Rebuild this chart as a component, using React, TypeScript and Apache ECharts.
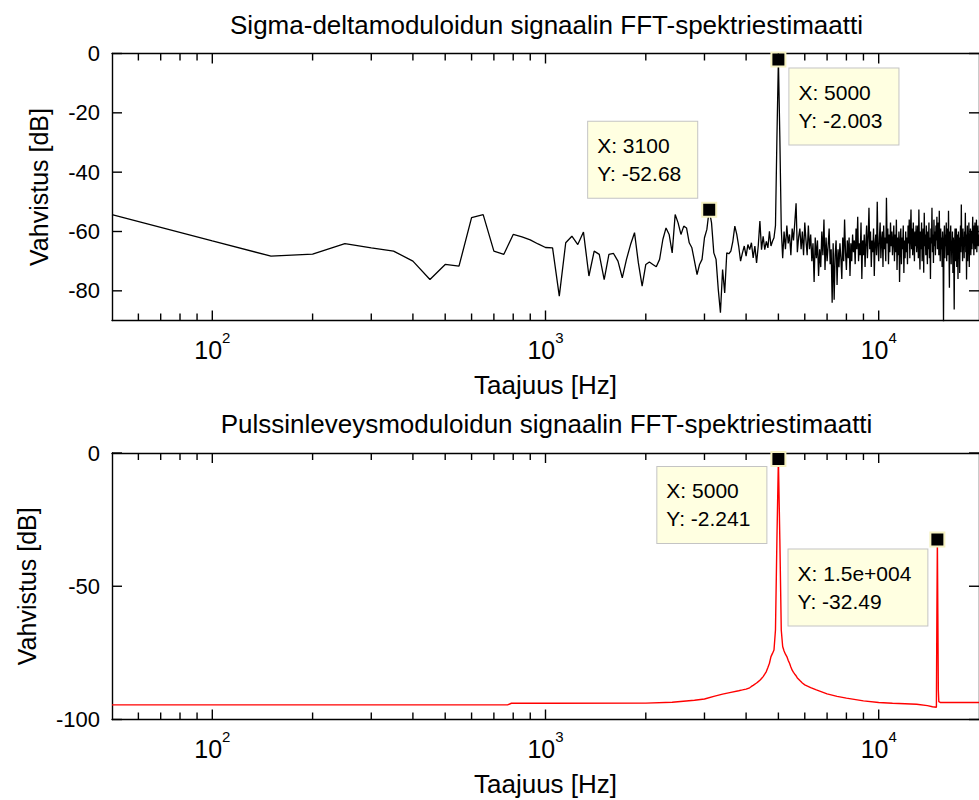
import React, { useEffect, useRef } from 'react';
import * as echarts from 'echarts';

const FONT = '"Liberation Sans", Arial, Helvetica, sans-serif';
const BLACK = '#000000';

const TITLES = [
  'Sigma-deltamoduloidun signaalin FFT-spektriestimaatti',
  'Pulssinleveysmoduloidun signaalin FFT-spektriestimaatti',
];
const X_NAME = 'Taajuus [Hz]';
const Y_NAME = 'Vahvistus [dB]';

const F_MIN = 50;
const F_MAX = 20000;
const BIN_HZ = 50;

const decadeTicks = [100, 1000, 10000];
const minorTicks = [60, 70, 80, 90, 200, 300, 400, 500, 600, 700, 800, 900, 2000, 3000, 4000, 5000, 6000, 7000, 8000, 9000];
const sdGainTicks = [-80, -60, -40, -20, 0];
const pwmGainTicks = [-100, -50, 0];

// Sigma-delta spectrum, one value (dB) per 50 Hz FFT bin, 50 Hz .. 20 kHz
const sdBand1 = [-54.3, -63.2, -68.3, -67.6, -64.1, -65.5, -66.6, -70.0, -76.2, -71.1, -71.7, -55.3, -54.3, -66.6, -67.7, -61.0, -61.8, -62.8, -64.2, -65.4];
const sdBand2 = [
  -65.5, -81.8, -63.8, -61.6, -64.4, -60.2, -75.0, -66.6, -67.7, -76.2,
  -67.7, -67.4, -70.0, -75.6, -69.4, -64.4, -60.4, -70.6, -78.4, -71.1,
  -70.3, -71.1, -71.9, -69.4, -62.7, -58.8, -61.0, -67.2, -54.3, -57.1,
  -61.0, -58.2, -58.8, -63.8, -65.5, -70.0, -74.5, -71.1, -69.4,
];
const sdBand3 = [
  -62.1, -59.3, -52.68, -57.1, -67.2, -69.4, -79.5, -87.4, -72.8, -80.7,
  -67.2, -67.5, -66.6, -63.3, -58.2, -61.0, -64.9, -70.0, -67.2, -64.9,
  -68.3, -64.4, -66.1, -63.8, -68.9, -64.9, -70.6, -64.9, -56.5, -66.1,
  -61.6, -66.1, -63.3, -65.5, -59.9, -64.9, -63.3, -62.1, -58.0, -28.0,
  -2.003, -28.2, -59.0, -69.0,
];
const sdBand4 = [-60, -66, -58, -64, -61, -68, -59, -63, -57, -50.5, -67, -62, -59, -66, -60, -68, -57];
const sdBand5 = [-63, -68, -58, -66, -61, -70, -64, -77, -62, -69, -63, -75, -66, -72, -60, -68, -56, -73, -62, -70];
const sdBand6 = [-65, -59, -71, -66, -84, -64, -83, -68, -63, -78, -66, -72, -64, -69, -76, -62, -70, -56, -67, -73];
const sdBand7 = [-63, -69, -62, -75, -64, -70, -61, -67, -63, -71, -59, -66, -55, -70, -64, -68, -57, -76, -63, -68];
const sdBand8 = [-61, -72, -64, -58, -69, -62, -52, -66, -60, -72, -63, -67, -59, -75, -64, -61, -68, -50, -65, -70];
const sdBand9 = [-62, -57, -69, -63, -60, -72, -58, -66, -62, -70, -48.6, -64, -59, -71, -61, -67, -57, -65, -60, -68];
const sdBand10 = [-63, -58, -70, -61, -67, -56, -73, -62, -68, -60, -77, -64, -59, -71, -62, -66, -58, -74, -63, -69];
const sdBand11 = [-60, -67, -62, -71, -58, -64, -56, -69, -61, -52.6, -66, -59, -68, -57, -63, -70, -60, -65, -58, -67];
const sdBand12 = [-62, -58, -69, -52.6, -64, -72.8, -60, -66, -57, -70, -63, -59, -73.9, -53.7, -65, -61, -68, -58, -64, -71];
const sdBand13 = [-60, -66, -57, -69, -62, -76, -59, -64, -52, -67, -61, -70.6, -56, -65, -60, -68, -58, -63, -55, -66];
const sdBand14 = [-61, -57, -68, -53, -64, -70, -59, -66, -62, -72, -60, -67, -91, -63, -58, -69, -61, -65, -57, -70];
const sdBand15 = [-62, -59, -68, -53, -66, -79, -60, -64, -58, -71, -63, -67, -60, -74, -62, -69, -86.3, -64, -59, -70];
const sdBand16 = [-63, -59, -72, -61, -66, -76, -60, -68, -62, -74, -64, -58, -67, -50.9, -65, -61, -70, -59, -66, -62];
const sdBand17 = [-69, -60, -64, -53.7, -67, -61, -76.2, -63, -58, -70, -62, -66, -57, -72, -61, -65, -59, -68, -63, -60];
const sdBand18 = [-66, -61, -55, -64, -60, -68, -58, -63, -57, -66, -61, -64, -56, -67, -60, -63, -58, -65, -61, -62];

const sdGain = [
  ...sdBand1, ...sdBand2, ...sdBand3, ...sdBand4, ...sdBand5, ...sdBand6,
  ...sdBand7, ...sdBand8, ...sdBand9, ...sdBand10, ...sdBand11, ...sdBand12,
  ...sdBand13, ...sdBand14, ...sdBand15, ...sdBand16, ...sdBand17, ...sdBand18,
];
// FFT bin centre frequencies
const sdFreqs = sdGain.map((_, i) => BIN_HZ * (i + 1));

// PWM spectrum (Hz, dB)
const pwmFreqs = [
  50, 770, 790, 1000, 2000, 2400, 2800, 3000, 3200, 3400, 3600, 3800, 3900, 4000,
  4100, 4150, 4200, 4300, 4350, 4400, 4450, 4500, 4550, 4600, 4650, 4700, 4750, 4800,
  4850, 4900, 4950, 5000, 5050, 5100, 5150, 5200, 5250, 5300, 5350, 5400, 5450, 5500,
  5550, 5600, 5650, 5700, 5800, 5900, 6000, 6250, 6500, 7000, 7500, 8000, 9000, 10000,
  11000, 12000, 13000, 14000, 14500, 14900, 14950, 15000, 15050, 15100, 15150, 15300, 20000,
];
const pwmGain = [
  -94.5, -94.5, -93.9, -93.9, -93.85, -93.5, -92.8, -92.3, -91.3, -90.5, -89.8, -89.2, -88.9, -88.6,
  -88.1, -87.6, -87.2, -86.3, -85.8, -85.3, -84.6, -83.9, -83.0, -82.0, -80.5, -78.9, -76.4, -75.2,
  -73.9, -66.4, -32.0, -2.241, -32.3, -66.4, -72.6, -74.3, -75.5, -76.4, -77.8, -78.9, -80.3, -81.5,
  -82.3, -83.0, -83.6, -84.4, -85.4, -86.3, -87.0, -88.0, -88.9, -90.4, -91.3, -92.0, -93.0, -93.6,
  -93.9, -94.1, -94.3, -94.8, -95.2, -95.4, -60.0, -32.49, -60.5, -88.9, -93.3, -93.6, -93.6,
];

// Data tips: frequencies picked on each curve, values taken from the curve itself
const sdTipFreqs = [3100, 5000];
const sdTipGain = sdTipFreqs.map((f) => sdGain[sdFreqs.indexOf(f)]);
const pwmTipFreqs = [5000, 15000];
const pwmTipGain = pwmTipFreqs.map((f) => pwmGain[pwmFreqs.indexOf(f)]);

const MAJOR_LEN = 10;
const MINOR_LEN = 7;
const FRAME_W = 1.4;

// Number formatting in the style of MATLAB's num2str(x, 4)
function matlabNum(v: number): string {
  const a = Math.abs(v);
  if (a !== 0 && (a >= 1e4 || a < 1e-4)) {
    const [m, e] = v.toExponential(3).split('e');
    const mant = String(parseFloat(m));
    const sign = e[0] === '-' ? '-' : '+';
    const exp = String(Math.abs(parseInt(e, 10))).padStart(3, '0');
    return `${mant}e${sign}${exp}`;
  }
  return String(parseFloat(v.toPrecision(4)));
}

const border = () => ({ show: true, onZero: false, lineStyle: { color: BLACK, width: FRAME_W } });

function freqAxes(gridIndex: number) {
  const common = {
    type: 'log', logBase: 10, min: F_MIN, max: F_MAX, gridIndex,
    splitLine: { show: false }, minorTick: { show: false }, silent: true,
    axisLine: border(), axisTick: { show: false },
  };
  return [
    {
      ...common, position: 'bottom',
      axisLabel: {
        show: true, customValues: decadeTicks, margin: 9,
        formatter: (v: number) => `{b|10}{s|${Math.round(Math.log10(v))}}`,
        rich: {
          b: { fontSize: 25, fontFamily: FONT, color: BLACK, lineHeight: 40 },
          s: { fontSize: 15, fontFamily: FONT, color: BLACK, lineHeight: 15, verticalAlign: 'top' },
        },
      },
      name: X_NAME, nameLocation: 'middle', nameGap: 51,
      nameTextStyle: { fontSize: 26, fontFamily: FONT, color: BLACK },
    },
    { ...common, position: 'top', axisLabel: { show: false } },
  ];
}

function gainAxes(gridIndex: number, min: number, ticks: number[], nameGap: number) {
  const common = {
    type: 'value', gridIndex, min, max: 0,
    splitLine: { show: false }, silent: true,
    axisLine: border(), axisTick: { show: false },
  };
  return [
    {
      ...common, position: 'left',
      axisLabel: { show: true, customValues: ticks, margin: 12, fontSize: 22, fontFamily: FONT, color: BLACK },
      name: Y_NAME, nameLocation: 'middle', nameRotate: 90, nameGap,
      nameTextStyle: { fontSize: 25, fontFamily: FONT, color: BLACK },
    },
    { ...common, position: 'right', axisLabel: { show: false } },
  ];
}

const tipRich = { t: { align: 'left', fontSize: 21, fontFamily: FONT, color: BLACK, lineHeight: 28 } };

function tipSeries(axisIndex: number, freqs: number[], gains: number[], placement: any[]) {
  return {
    type: 'scatter', xAxisIndex: axisIndex, yAxisIndex: axisIndex, silent: true, clip: false, z: 5,
    symbol: 'rect', symbolSize: 14,
    itemStyle: { color: BLACK, borderColor: '#F6F2C2', borderWidth: 2, opacity: 1 },
    label: {
      show: true, position: 'inside',
      formatter: (p: any) => `{t|X: ${matlabNum(p.value[0])}}\n{t|Y: ${matlabNum(p.value[1])}}`,
      rich: tipRich,
      backgroundColor: '#FFFFE1', borderColor: '#C4C4C4', borderWidth: 1,
      padding: [10, 16, 10, 9], textBorderWidth: 0,
    },
    data: freqs.map((f, i) => ({ value: [f, gains[i]], label: placement[i] })),
  };
}

const sdTipPlacement = [
  { align: 'right', verticalAlign: 'bottom', offset: [-12, -12] },
  { align: 'left', verticalAlign: 'top', offset: [11, 9] },
];
const pwmTipPlacement = [
  { align: 'right', verticalAlign: 'top', offset: [-12, 8] },
  { align: 'right', verticalAlign: 'top', offset: [-10, 10] },
];

function buildOption() {
  const titleStyle = { fontSize: 26, fontWeight: 'normal', color: BLACK, fontFamily: FONT };
  return {
    animation: false,
    backgroundColor: '#ffffff',
    title: [
      { text: TITLES[0], left: 546.5, top: 11.5, textAlign: 'center', padding: 0, textStyle: titleStyle },
      { text: TITLES[1], left: 546.5, top: 411, textAlign: 'center', padding: 0, textStyle: titleStyle },
    ],
    grid: [
      { left: 112, top: 53.5, width: 869, height: 267 },
      { left: 112, top: 453, width: 869, height: 266.5 },
    ],
    xAxis: [...freqAxes(0), ...freqAxes(1)],
    yAxis: [...gainAxes(0, -90, sdGainTicks, 61), ...gainAxes(1, -100, pwmGainTicks, 73)],
    series: [
      {
        type: 'line', xAxisIndex: 0, yAxisIndex: 0, silent: true, z: 3,
        data: sdFreqs.map((f, i) => [f, sdGain[i]]),
        symbol: 'none', showSymbol: false,
        lineStyle: { color: BLACK, width: 1.3 },
      },
      {
        type: 'line', xAxisIndex: 2, yAxisIndex: 2, silent: true, z: 3,
        data: pwmFreqs.map((f, i) => [f, pwmGain[i]]),
        symbol: 'none', showSymbol: false,
        lineStyle: { color: '#FF0000', width: 1.4 },
      },
      tipSeries(0, sdTipFreqs, sdTipGain, sdTipPlacement),
      tipSeries(2, pwmTipFreqs, pwmTipGain, pwmTipPlacement),
    ],
  };
}

// Inward ticks on all four sides of each box, placed through the axes' own scales
function boxTicks(chart: any, axisIndex: number, yMin: number, yTicks: number[]) {
  const xPx = (f: number) => chart.convertToPixel({ xAxisIndex: axisIndex }, f) as number;
  const yPx = (v: number) => chart.convertToPixel({ yAxisIndex: axisIndex }, v) as number;
  const seg = (x1: number, y1: number, x2: number, y2: number) => ({
    type: 'line',
    z: 50,
    shape: { x1, y1, x2, y2 },
    style: { stroke: BLACK, lineWidth: FRAME_W },
  });
  const bottom = yPx(yMin);
  const top = yPx(0);
  const left = xPx(F_MIN);
  const right = xPx(F_MAX);
  const out: any[] = [];
  const xTick = (f: number, len: number) => {
    const x = xPx(f);
    out.push(seg(x, bottom, x, bottom - len));
    out.push(seg(x, top, x, top + len));
  };
  decadeTicks.forEach((f) => xTick(f, MAJOR_LEN));
  minorTicks.forEach((f) => xTick(f, MINOR_LEN));
  yTicks.forEach((v) => {
    const y = yPx(v);
    out.push(seg(left, y, left + MAJOR_LEN, y));
    out.push(seg(right, y, right - MAJOR_LEN, y));
  });
  return out;
}

export default function App() {
  const ref = useRef<HTMLDivElement>(null);
  useEffect(() => {
    if (!ref.current) return;
    const chart = echarts.init(ref.current, null, { renderer: 'svg' });
    chart.setOption(buildOption() as any);
    chart.setOption({
      graphic: {
        elements: [
          ...boxTicks(chart, 0, -90, sdGainTicks),
          ...boxTicks(chart, 2, -100, pwmGainTicks),
        ],
      },
    });
    return () => chart.dispose();
  }, []);
  return (
    <div
      ref={ref}
      style={{ position: 'absolute', left: 0, top: 0, width: 979, height: 800, background: '#fff' }}
    />
  );
}
